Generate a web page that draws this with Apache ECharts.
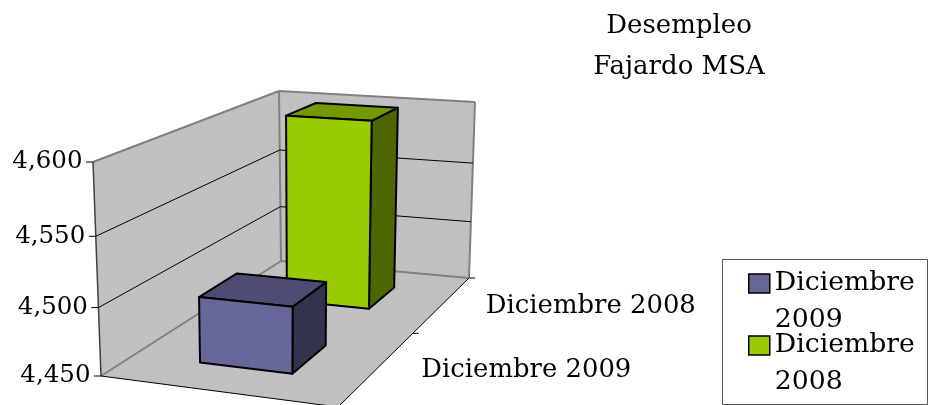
<!DOCTYPE html>
<html>
<head>
<meta charset="utf-8">
<title>Desempleo Fajardo MSA</title>
<style>
  html, body { margin: 0; padding: 0; background: #fff; }
  #main { width: 930px; height: 405px; }
</style>
<script src="https://cdn.jsdelivr.net/npm/echarts@6/dist/echarts.min.js"></script>
</head>
<body>
<div id="main"></div>
<script>
var categories = ['Diciembre 2009', 'Diciembre 2008'];
var values2009 = [4499];
var values2008 = [4600];
var tickValues = [4450, 4500, 4550, 4600];
var yMin = 4450;
var yMax = 4600;

var fontName = '"DejaVu Serif"';

// the box of the 3D plot as it lands on the page: A front left, D front right, C back right, B back left
var floorQuad = [[101, 376], [338, 407], [469, 278], [281, 261]];
var topQuad = [[93, 162], [340, 179], [475, 102], [279, 91]];
var heightPersp = 0.94;
var barS = [0.30, 0.705];
var barDepth = 0.40;

function quadPoint(q, s, t) {
    var dx1 = q[1][0] - q[2][0], dx2 = q[3][0] - q[2][0], sx = q[0][0] - q[1][0] + q[2][0] - q[3][0];
    var dy1 = q[1][1] - q[2][1], dy2 = q[3][1] - q[2][1], sy = q[0][1] - q[1][1] + q[2][1] - q[3][1];
    var det = dx1 * dy2 - dx2 * dy1;
    var g = (sx * dy2 - dx2 * sy) / det;
    var h = (dx1 * sy - sx * dy1) / det;
    var w = 1 + g * s + h * t;
    return [
        ((q[1][0] - q[0][0] + g * q[1][0]) * s + (q[3][0] - q[0][0] + h * q[3][0]) * t + q[0][0]) / w,
        ((q[1][1] - q[0][1] + g * q[1][1]) * s + (q[3][1] - q[0][1] + h * q[3][1]) * t + q[0][1]) / w
    ];
}

function project(s, t, f) {
    var a = quadPoint(floorQuad, s, t);
    var b = quadPoint(topQuad, s, t);
    var k = f * heightPersp / (1 + f * (heightPersp - 1));
    return [a[0] + (b[0] - a[0]) * k, a[1] + (b[1] - a[1]) * k];
}

// height fraction of a value
function heightOf(api, params, v) {
    return (api.coord([0, yMin])[1] - api.coord([0, v])[1]) / params.coordSys.height;
}

// depth fraction of a category
function depthOf(api, params, c) {
    return (api.coord([c, yMin])[0] - params.coordSys.x) / params.coordSys.width;
}

function poly(points, fill, stroke, lineWidth) {
    return { type: 'polygon', shape: { points: points }, style: { fill: fill, stroke: stroke, lineWidth: lineWidth, lineJoin: 'round' } };
}

function line(p, q, color, lineWidth) {
    return { type: 'line', shape: { x1: p[0], y1: p[1], x2: q[0], y2: q[1] }, style: { stroke: color, lineWidth: lineWidth } };
}

function renderWalls(params, api) {
    var wall = '#C0C0C0', edge = '#808080';
    return {
        type: 'group',
        children: [
            poly([project(0, 0, 0), project(1, 0, 0), project(1, 1, 0), project(0, 1, 0)], wall, null, 0),
            poly([project(0, 0, 0), project(0, 0, 1), project(0, 1, 1), project(0, 1, 0)], wall, null, 0),
            poly([project(0, 1, 0), project(0, 1, 1), project(1, 1, 1), project(1, 1, 0)], wall, null, 0),
            line(project(0, 0, 1), project(0, 1, 1), edge, 2),
            line(project(0, 1, 1), project(1, 1, 1), edge, 2),
            line(project(1, 1, 1), project(1, 1, 0), edge, 2),
            line(project(0, 1, 1), project(0, 1, 0), edge, 2),
            line(project(0, 0, 0), project(0, 1, 0), edge, 2),
            line(project(0, 1, 0), project(1, 1, 0), edge, 2),
            line(project(0, 0, 0), project(0, 0, 1), '#404040', 1.5),
            line(project(0, 0, 0), project(1, 0, 0), '#000', 1),
            line(project(1, 0, 0), project(1, 1, 0), '#000', 1)
        ]
    };
}

function renderTick(params, api) {
    var v = api.value(1);
    var f = heightOf(api, params, v);
    var p = project(0, 0, f);
    var children = [
        line([p[0] - 7, p[1]], p, '#000', 1),
        {
            type: 'text',
            style: {
                text: echarts.format.addCommas(v),
                x: p[0] - 10.5, y: p[1],
                align: 'right', verticalAlign: 'middle',
                font: '24.5px ' + fontName, fill: '#000'
            }
        }
    ];
    if (v !== yMin && v !== yMax) {
        children.push(line(p, project(0, 1, f), '#000', 1));
        children.push(line(project(0, 1, f), project(1, 1, f), '#000', 1));
    }
    return { type: 'group', children: children };
}

function renderCategory(params, api) {
    var i = api.value(0);
    var t = depthOf(api, params, i);
    var band = api.size([1, 0])[0] / params.coordSys.width;
    var p = project(1, t, 0);
    var q = project(1, t + band / 2, 0);
    return {
        type: 'group',
        children: [
            {
                type: 'text',
                style: {
                    text: categories[i],
                    x: p[0] + 43, y: p[1] + 2.5,
                    align: 'left', verticalAlign: 'middle',
                    font: '25.9px ' + fontName, fill: '#000'
                }
            },
            line(q, [q[0] + 6, q[1]], '#000', 1)
        ]
    };
}

function barRender(front, top, side) {
    return function (params, api) {
        var t = depthOf(api, params, api.value(0));
        var d = api.size([1, 0])[0] / params.coordSys.width * barDepth / 2;
        var f = heightOf(api, params, api.value(1));
        var s0 = barS[0], s1 = barS[1], t0 = t - d, t1 = t + d;
        return {
            type: 'group',
            children: [
                poly([project(s1, t0, 0), project(s1, t1, 0), project(s1, t1, f), project(s1, t0, f)], side, '#000', 2),
                poly([project(s0, t0, f), project(s1, t0, f), project(s1, t1, f), project(s0, t1, f)], top, '#000', 2),
                poly([project(s0, t0, 0), project(s1, t0, 0), project(s1, t0, f), project(s0, t0, f)], front, '#000', 2)
            ]
        };
    };
}

var myChart = echarts.init(document.getElementById('main'));
myChart.setOption({
    animation: false,
    backgroundColor: '#fff',
    title: {
        text: 'Desempleo\nFajardo MSA',
        left: 679,
        top: 6,
        padding: 0,
        textAlign: 'center',
        textStyle: { fontFamily: fontName, fontWeight: 'normal', fontSize: 26, lineHeight: 41, color: '#000' }
    },
    grid: { left: 100, top: 162, width: 300, height: 214 },
    xAxis: { type: 'category', data: categories, show: false },
    yAxis: { type: 'value', min: yMin, max: yMax, interval: 50, show: false },
    legend: {
        data: categories,
        orient: 'vertical',
        left: 748,
        top: 228,
        height: 300,
        padding: 0,
        icon: 'rect',
        itemWidth: 21,
        itemHeight: 19,
        itemGap: -49,
        itemStyle: { borderColor: '#000', borderWidth: 1.5 },
        // empty first line keeps the icon level with the word above the year
        formatter: function (name) { return '\n' + name.replace(' ', '\n'); },
        textStyle: { fontFamily: fontName, fontSize: 26.7, lineHeight: 37, color: '#000' }
    },
    graphic: [{
        type: 'rect',
        shape: { x: 722.5, y: 259.5, width: 205, height: 145 },
        style: { fill: 'none', stroke: '#555', lineWidth: 1 },
        z: -1
    }],
    series: [
        {
            type: 'custom',
            silent: true,
            z: 1,
            renderItem: renderWalls,
            data: [[0, yMin]]
        },
        {
            type: 'custom',
            silent: true,
            z: 2,
            renderItem: renderTick,
            data: tickValues.map(function (v) { return [0, v]; })
        },
        {
            type: 'custom',
            silent: true,
            z: 2,
            renderItem: renderCategory,
            data: categories.map(function (c, i) { return [i, yMin]; })
        },
        {
            name: categories[1],
            type: 'custom',
            z: 3,
            itemStyle: { color: '#99CC00' },
            renderItem: barRender('#99CC00', '#739900', '#4D6600'),
            data: values2008.map(function (v) { return [1, v]; })
        },
        {
            name: categories[0],
            type: 'custom',
            z: 4,
            itemStyle: { color: '#666699' },
            renderItem: barRender('#666699', '#4D4D73', '#33334D'),
            data: values2009.map(function (v) { return [0, v]; })
        }
    ]
});
</script>
</body>
</html>
